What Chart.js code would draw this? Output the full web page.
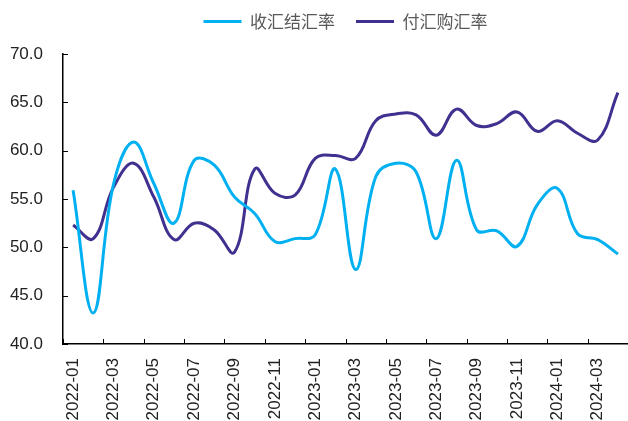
<!DOCTYPE html>
<html>
<head>
<meta charset="utf-8">
<script src="https://cdn.jsdelivr.net/npm/chart.js@4/dist/chart.umd.min.js"></script>
<style>
    body { margin: 0; background: #fff; }
    #wrap { width: 628px; height: 421px; }
</style>
</head>
<body>
<div id="wrap"><canvas id="chart"></canvas></div>
<script>
// --- Data ---
const months = [
    '2022-01', '2022-02', '2022-03', '2022-04', '2022-05', '2022-06', '2022-07',
    '2022-08', '2022-09', '2022-10', '2022-11', '2022-12', '2023-01', '2023-02',
    '2023-03', '2023-04', '2023-05', '2023-06', '2023-07', '2023-08', '2023-09',
    '2023-10', '2023-11', '2023-12', '2024-01', '2024-02', '2024-03', '2024-04'
];
// 收汇结汇率
const settleRate = [
    55.9, 43.2, 56.5, 60.9, 56.6, 52.5, 59.0,
    58.5, 55.2, 53.5, 50.6, 50.9, 51.3, 58.1,
    47.7, 57.3, 58.7, 57.8, 50.9, 59.0, 51.8,
    51.7, 50.1, 54.4, 56.1, 51.4, 50.8, 49.3
];
// 付汇购汇率
const purchaseRate = [
    52.3, 50.9, 56.2, 58.7, 55.2, 50.8, 52.5,
    51.8, 49.5, 58.1, 55.6, 55.4, 59.2, 59.5,
    59.2, 63.1, 63.8, 63.7, 61.6, 64.3, 62.6,
    62.8, 64.0, 62.0, 63.1, 61.8, 61.1, 66.0
];
const yMin = 40, yMax = 70, yStep = 5;

const CYAN = '#00b0f0';
const PURPLE = '#41308f';
const NUM_FONT = 'Liberation Sans, Arial, sans-serif';

// Small inward tick marks on both axes
const innerTicks = {
    id: 'innerTicks',
    afterDraw(chart) {
        const { ctx, chartArea, scales: { x, y } } = chart;
        ctx.save();
        ctx.strokeStyle = '#000';
        ctx.lineWidth = 1;
        ctx.beginPath();
        y.ticks.forEach((t, i) => {
            const py = Math.round(y.getPixelForTick(i)) + 0.5;
            ctx.moveTo(chartArea.left, py);
            ctx.lineTo(chartArea.left + 5, py);
        });
        const half = (x.getPixelForValue(1) - x.getPixelForValue(0)) / 2;
        months.forEach((m, i) => {
            if (i % 2) return;
            const px = Math.round(x.getPixelForValue(i) - half) + 0.5;
            ctx.moveTo(px, chartArea.bottom);
            ctx.lineTo(px, chartArea.bottom - 5);
        });
        ctx.stroke();
        ctx.restore();
    }
};

// Extra room under the legend
const legendGap = {
    id: 'legendGap',
    beforeInit(chart) {
        const fit = chart.legend.fit;
        chart.legend.fit = function () {
            fit.call(this);
            this.height += 14;
        };
    }
};

new Chart(document.getElementById('chart'), {
    type: 'line',
    data: {
        labels: months,
        datasets: [
            { label: '收汇结汇率', data: settleRate, borderColor: CYAN, backgroundColor: CYAN },
            { label: '付汇购汇率', data: purchaseRate, borderColor: PURPLE, backgroundColor: PURPLE }
        ]
    },
    options: {
        responsive: true,
        maintainAspectRatio: false,
        animation: false,
        layout: { padding: { left: 10, right: 0, top: -8, bottom: 0 } },
        elements: {
            line: { borderWidth: 3, tension: 0.4, fill: false },
            point: { radius: 0 }
        },
        plugins: {
            tooltip: { enabled: false },
            legend: {
                position: 'top',
                fullSize: false,
                labels: {
                    boxWidth: 38,
                    boxHeight: 0,
                    padding: 21,
                    color: '#595959',
                    font: { family: 'Noto Sans CJK SC', size: 17 }
                }
            }
        },
        scales: {
            x: {
                offset: true,
                grid: { display: false, drawTicks: false },
                border: { color: '#000', width: 1.5 },
                ticks: {
                    autoSkip: false,
                    minRotation: 90,
                    maxRotation: 90,
                    padding: 14,
                    color: '#222',
                    font: { family: NUM_FONT, size: 17 },
                    callback: (v, i) => (i % 2 === 0 ? months[i] : '')
                },
                afterFit: s => { s.paddingLeft = 0; s.paddingRight = 0; s.height = 77; }
            },
            y: {
                min: yMin,
                max: yMax,
                grid: { display: false, drawTicks: false },
                border: { color: '#000', width: 1.5 },
                ticks: {
                    stepSize: yStep,
                    padding: 20,
                    color: '#222',
                    font: { family: NUM_FONT, size: 17 },
                    callback: v => v.toFixed(1)
                },
                afterFit: s => { s.width = 53; }
            }
        }
    },
    plugins: [innerTicks, legendGap]
});
</script>
</body>
</html>
